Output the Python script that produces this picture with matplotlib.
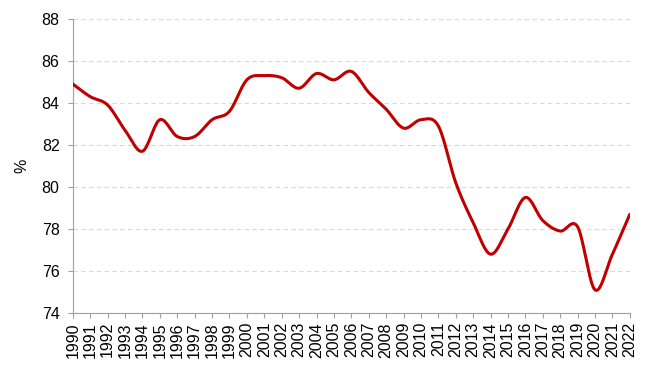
import numpy as np
import matplotlib
matplotlib.use("Agg")
import matplotlib.pyplot as plt

years = list(range(1990, 2023))
values = [84.9, 84.3, 83.9, 82.7, 81.7, 83.2, 82.4, 82.4, 83.2, 83.6,
          85.1, 85.3, 85.2, 84.7, 85.4, 85.1, 85.5, 84.5, 83.7, 82.8,
          83.2, 82.9, 80.2, 78.3, 76.8, 78.0, 79.5, 78.4, 77.9, 78.1,
          75.1, 76.8, 78.7]
y_ticks = [74, 76, 78, 80, 82, 84, 86, 88]


def catmull_rom(x, y, n=20):
    x = np.asarray(x, float)
    y = np.asarray(y, float)
    px = np.concatenate([[2 * x[0] - x[1]], x, [2 * x[-1] - x[-2]]])
    py = np.concatenate([[2 * y[0] - y[1]], y, [2 * y[-1] - y[-2]]])
    xs, ys = [], []
    for i in range(1, len(px) - 2):
        t = np.linspace(0, 1, n, endpoint=False)
        for arr, out in ((px, xs), (py, ys)):
            p0, p1, p2, p3 = arr[i - 1], arr[i], arr[i + 1], arr[i + 2]
            out.extend(0.5 * ((2 * p1) + (-p0 + p2) * t
                              + (2 * p0 - 5 * p1 + 4 * p2 - p3) * t ** 2
                              + (-p0 + 3 * p1 - 3 * p2 + p3) * t ** 3))
    xs.append(x[-1]); ys.append(y[-1])
    return np.array(xs), np.array(ys)


plt.rcParams['font.family'] = ['Liberation Sans', 'DejaVu Sans']
fig = plt.figure(figsize=(6.5, 3.78), dpi=100)
ax = fig.add_axes([0.112, 0.172, 0.857, 0.778])

sx, sy = catmull_rom(years, values)
ax.plot(sx, sy, color='#C00000', lw=2.2, solid_capstyle='round', zorder=3)

ax.set_xlim(1990, 2022)
ax.set_ylim(74, 88)
ax.set_yticks(y_ticks)
ax.set_xticks(years)
ax.set_xticklabels([str(y) for y in years], rotation=90)
ax.tick_params(axis='both', labelsize=11.5, color='#A0A0A0', length=3.5)
ax.tick_params(axis='y', pad=6)
ax.tick_params(axis='x', pad=3)
ax.grid(axis='y', linestyle=(0, (4, 3)), color='#D9D9D9', lw=0.8)
ax.set_axisbelow(True)
for s in ['top', 'right']:
    ax.spines[s].set_visible(False)
for s in ['left', 'bottom']:
    ax.spines[s].set_color('#A0A0A0')
ax.set_ylabel('%', fontsize=11.5, labelpad=9)

fig.savefig('out.png', dpi=100)
